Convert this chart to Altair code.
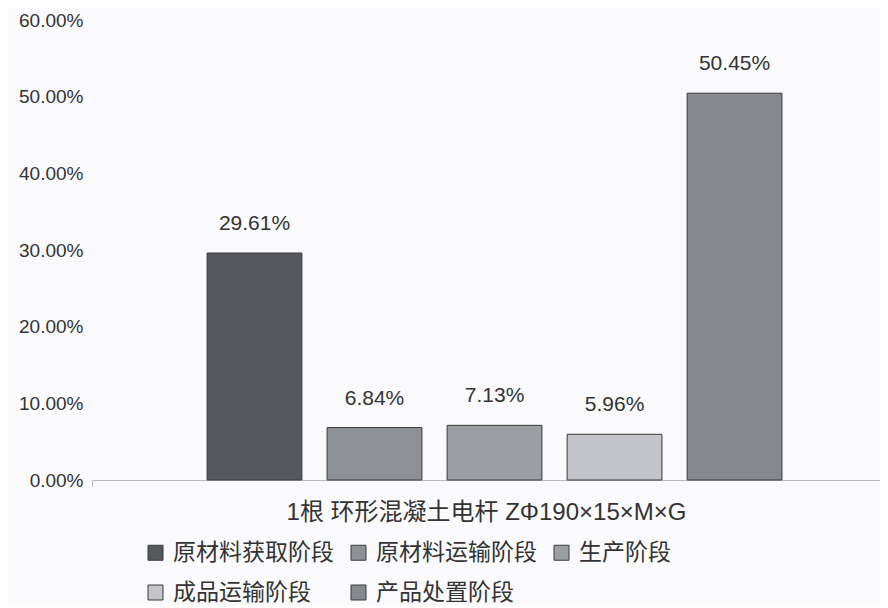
import altair as alt
import pandas as pd

category = ["1根 环形混凝土电杆 ZΦ190×15×M×G"]
series = ["原材料获取阶段", "原材料运输阶段", "生产阶段", "成品运输阶段", "产品处置阶段"]
values = [0.2961, 0.0684, 0.0713, 0.0596, 0.5045]
colors = ["#55595e", "#8d9095", "#9b9ea3", "#c3c5ca", "#85888d"]
y_ticks = [0.0, 0.1, 0.2, 0.3, 0.4, 0.5, 0.6]

df = pd.DataFrame({
    "cat": category * len(series),
    "series": series,
    "value": values,
})

base = alt.Chart(df).encode(
    x=alt.X(
        "cat:N",
        scale=alt.Scale(paddingInner=0, paddingOuter=0),
        axis=alt.Axis(
            title=None,
            labelAngle=0,
            tickBand="extent",
            domainColor="#b8b8bc",
            tickColor="#b8b8bc",
            tickSize=6,
            labelPadding=14,
            labelFontSize=24,
            labelFont="Liberation Sans, Noto Sans CJK SC",
            labelColor="#333333",
            labelLimit=800,
        ),
    ),
    xOffset=alt.XOffset(
        "series:N",
        sort=series,
        scale=alt.Scale(domain=series, paddingInner=0.21, paddingOuter=0.888, align=0.54),
    ),
    y=alt.Y(
        "value:Q",
        scale=alt.Scale(domain=[0, 0.6]),
        axis=alt.Axis(
            title=None,
            values=y_ticks,
            format=".2%",
            domain=False,
            ticks=False,
            grid=False,
            labelPadding=9,
            labelFontSize=19,
            labelFont="Liberation Sans",
            labelColor="#333333",
        ),
    ),
)

bars = base.mark_bar(stroke="#3a3a3a", strokeWidth=1).encode(
    color=alt.Color(
        "series:N",
        sort=series,
        scale=alt.Scale(domain=series, range=colors),
        legend=alt.Legend(
            title=None,
            orient="none",
            legendX=52,
            legendY=521,
            direction="horizontal",
            columns=3,
            symbolType="square",
            symbolSize=225,
            symbolStrokeColor="#3a3a3a",
            symbolStrokeWidth=1,
            labelFontSize=23,
            labelFont="Noto Sans CJK SC",
            labelColor="#333333",
            labelLimit=400,
            columnPadding=13,
            rowPadding=16,
            labelOffset=6,
        ),
    )
)

labels = base.mark_text(
    baseline="alphabetic", dy=-23, fontSize=21, font="Liberation Sans", color="#333333"
).encode(text=alt.Text("value:Q", format=".2%"))

chart = (
    alt.layer(bars, labels)
    .properties(
        width=788,
        height=460,
        padding={"left": 84, "top": 12, "right": 0, "bottom": 125},
        autosize=alt.AutoSizeParams(type="none"),
        background="#fafafc",
    )
    .configure_view(stroke=None)
)

chart.save("out.html", embed_options={"renderer": "svg", "actions": False})
